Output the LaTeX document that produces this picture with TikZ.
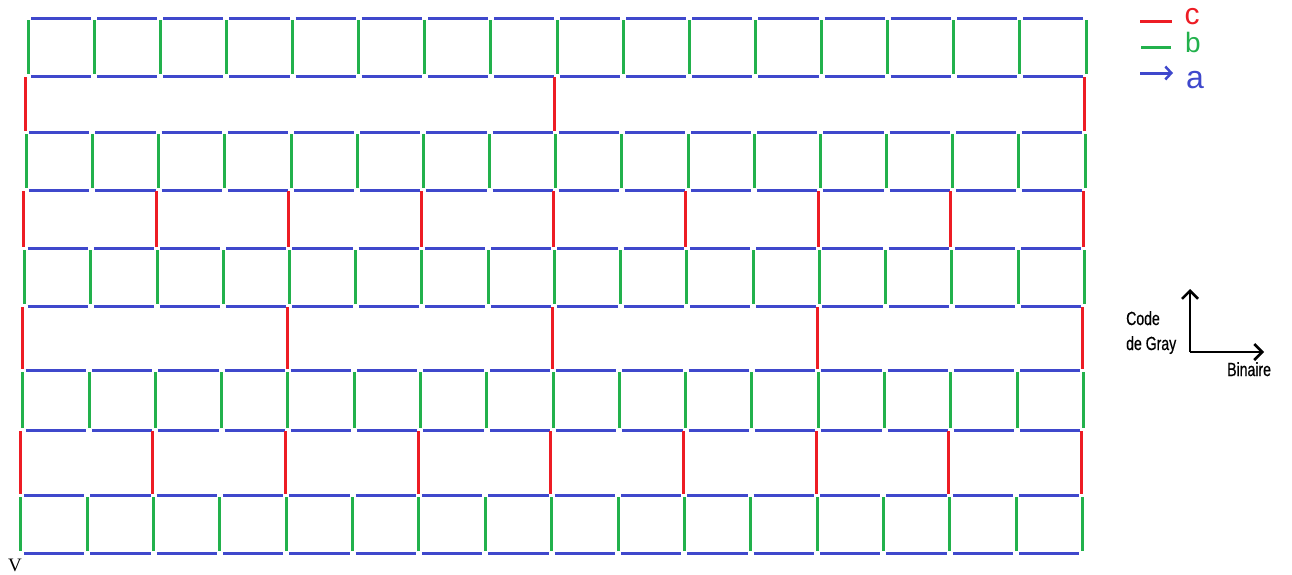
\documentclass[tikz,border=0pt]{standalone}
\usepackage{fontspec}
\setmainfont{Latin Modern Roman}
\newfontfamily\condfont[FakeStretch=0.74,FakeBold=0.6]{Liberation Sans}
\newfontfamily\handfont{Liberation Sans}
\newfontfamily\vfont{Liberation Serif}
\usetikzlibrary{arrows.meta}
\definecolor{pblue}{HTML}{3F48CC}
\definecolor{pgreen}{HTML}{22B14C}
\definecolor{pred}{HTML}{ED1C24}
\tikzset{
  aline/.style={pblue,line width=3pt},
  bline/.style={pgreen,line width=3pt},
  cline/.style={pred,line width=3pt},
  axis/.style={black,line width=2.5pt,-{Straight Barb[length=8pt,width=16pt,line width=2.5pt]}},
  lbl/.style={font=\condfont\fontsize{19}{20}\selectfont,inner sep=0pt},
}
\begin{document}
\begin{tikzpicture}[x=1pt,y=-1pt]
\useasboundingbox (0,0) rectangle (1292,574);
% x position of column #1 at height #2
\newcommand{\colx}[3]{\pgfmathsetmacro#3{(28-(#2-18)*8/535)+(#1/16)*(1058+(#2-18)*4/535)}}
% green rows: cells with blue tops/bottoms and green sides
\foreach \yt/\yb in {18/76,132/190,248/306,370/430,495/553}{
  \foreach \i in {0,...,15}{
    \pgfmathtruncatemacro\j{\i+1}
    \colx{\i}{\yt}{\xa}\colx{\j}{\yt}{\xb}
    \draw[aline] (\xa+3,\yt) -- (\xb-3,\yt);
    \draw[aline] (\xa+3,\yb) -- (\xb-3,\yb);
  }
  \foreach \i in {0,...,16}{
    \colx{\i}{\yt}{\xa}
    \draw[bline] (\xa,\yt+2) -- (\xa,\yb-2);
  }
}
% red rows
\foreach \yt/\yb/\st in {76/132/8,190/248/2,306/370/4,430/495/2}{
  \pgfmathtruncatemacro\nn{16/\st}
  \foreach \k in {0,...,\nn}{
    \pgfmathtruncatemacro\i{\k*\st}
    \colx{\i}{\yt}{\xa}
    \draw[cline] (\xa-1.5,\yt+1) -- (\xa-1.5,\yb-1);
  }
}
% legend
\coordinate (lc1) at (1140,21); \coordinate (lc2) at (1172,21);
\coordinate (lb1) at (1141,47); \coordinate (lb2) at (1171,47);
\coordinate (la1) at (1140,73); \coordinate (la2) at (1173,73);
\draw[cline] (lc1) -- (lc2);
\draw[bline] (lb1) -- (lb2);
\draw[aline,-{Straight Barb[length=6pt,width=13pt,line width=2.5pt]}] (la1) -- (la2);
\node[pred,font=\handfont\fontsize{30}{30}\selectfont,inner sep=0pt,anchor=base] (tc) at (1192,24) {c};
\node[pgreen,font=\handfont\fontsize{28}{28}\selectfont,inner sep=0pt,anchor=base] (tb) at (1193,52) {b};
\node[pblue,font=\handfont\fontsize{32}{32}\selectfont,inner sep=0pt,anchor=base] (ta) at (1195,88) {a};
% axes
\coordinate (o) at (1190,352);
\coordinate (up) at (1190,289);
\coordinate (rt) at (1264,352);
\draw[axis] (o) -- (up);
\draw[axis] (o) -- (rt);
\node[lbl,anchor=base west] (code) at (1126,325) {Code};
\node[lbl,anchor=base west] (gray) at (1126,350) {de Gray};
\node[lbl,anchor=base west] (bin) at (1227,376) {Binaire};
\node[inner sep=0pt,anchor=base,font=\vfont\fontsize{19}{19}\selectfont] (v) at (15,571) {V};
\end{tikzpicture}
\end{document}
